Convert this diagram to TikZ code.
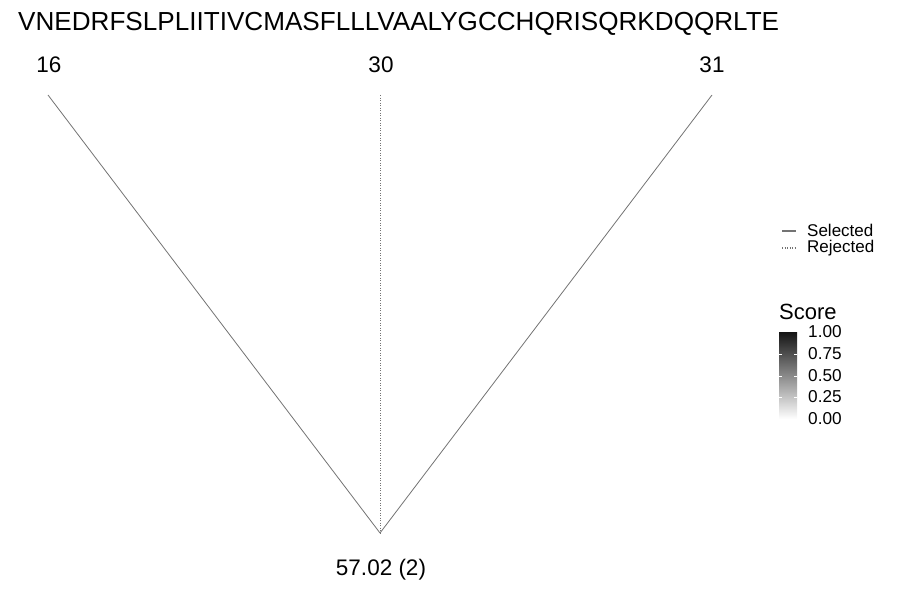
\documentclass[tikz,border=0pt]{standalone}
\usepackage{fontspec}
\setmainfont{Liberation Sans}
\begin{document}
\begin{tikzpicture}[x=1pt,y=-1pt,
  edge/.style={draw=black!55, line width=0.8pt},
  rej/.style={draw=black!55, line width=0.8pt, dash pattern=on 1pt off 1.5pt},
  lbl/.style={font=\fontsize{22.5}{26}\selectfont, inner sep=0pt},
  leg/.style={font=\fontsize{17}{19}\selectfont, inner sep=0pt, anchor=west},
  tick/.style={font=\fontsize{17.2}{20}\selectfont, inner sep=0pt, anchor=west}]
\useasboundingbox (0,0) rectangle (900,600);
\node[font=\fontsize{26.1}{29}\selectfont, inner sep=0pt, anchor=base west] (seq) at (18,30) {VNEDRFSLPLIITIVCMASFLLLVAALYGCCHQRISQRKDQQRLTE};
\node[lbl] (l16) at (49,65) {16};
\node[lbl] (l30) at (381,65) {30};
\node[lbl] (l31) at (712,65) {31};
\coordinate (t16) at (48,95);
\coordinate (t30) at (380,95);
\coordinate (t31) at (712,95);
\coordinate (root) at (380,533);
\draw[edge] (t16) -- (root);
\draw[rej] (t30) -- (root);
\draw[edge] (t31) -- (root);
\node[lbl] (rl) at (381,570) {57.02 (2)};
% legend
\coordinate (s1) at (782,231); \coordinate (s2) at (796,231);
\coordinate (r1) at (782,248); \coordinate (r2) at (796,248);
\draw[edge, line width=1.1pt] (s1) -- (s2);
\draw[rej, line width=1.1pt] (r1) -- (r2);
\node[leg] (sel) at (807,230.5) {Selected};
\node[leg] (rejt) at (807,248.5) {Rejected};
\node[font=\fontsize{22}{25}\selectfont, inner sep=0pt, anchor=base west] (score) at (779,319) {Score};
\shade[top color=black!92, bottom color=white] (779,332) rectangle (797,419);
\foreach \y in {354,376,397} {
  \draw[white, line width=0.6pt] (779,\y) -- (782,\y);
  \draw[white, line width=0.6pt] (794,\y) -- (797,\y);
}
\node[tick] (v1) at (808,332) {1.00};
\node[tick] (v2) at (808,354) {0.75};
\node[tick] (v3) at (808,376) {0.50};
\node[tick] (v4) at (808,397) {0.25};
\node[tick] (v5) at (808,419) {0.00};
\end{tikzpicture}
\end{document}
